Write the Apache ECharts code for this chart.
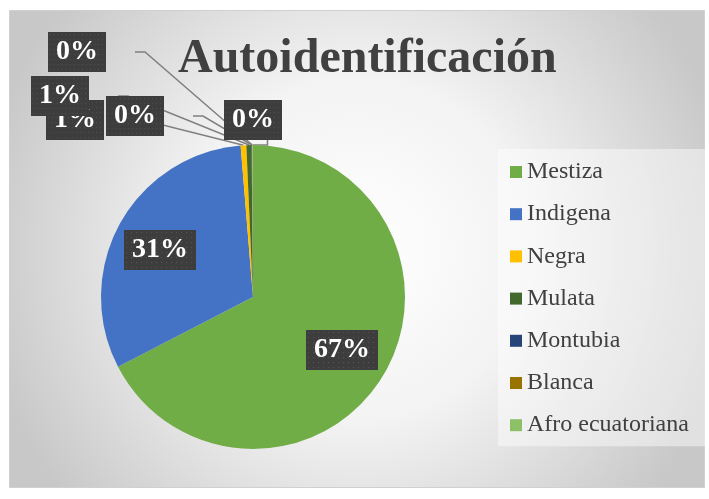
<!DOCTYPE html>
<html>
<head>
<meta charset="utf-8">
<script src="https://cdn.jsdelivr.net/npm/echarts@6/dist/echarts.min.js"></script>
<style>
  html, body { margin: 0; padding: 0; background: #ffffff; }
  #chart { width: 709px; height: 499px; }
</style>
</head>
<body>
<div id="chart"></div>
<script>
// Autoidentificación — share of each group
const categories = ['Mestiza', 'Indigena', 'Negra', 'Mulata', 'Montubia', 'Blanca', 'Afro ecuatoriana'];
const values = [67.4, 31.3, 0.6, 0.55, 0.05, 0.05, 0.05];
const colors = ['#70ad47', '#4472c4', '#ffc000', '#43682b', '#264478', '#997300', '#8cc168'];

// where each data label box sits (centre, px)
const labelSpots = [[342, 350], [160, 250], [75, 120], [60, 96], [135, 116], [77, 52], [253, 120]];

// dotted dark fill like the Excel label style
function dotPattern(w, h) {
  const c = document.createElement('canvas');
  c.width = w; c.height = h;
  const ctx = c.getContext('2d');
  ctx.fillStyle = '#3d3d3d';
  ctx.fillRect(0, 0, w, h);
  ctx.fillStyle = '#525252';
  for (let y = 2; y < h; y += 5) {
    for (let x = 2; x < w; x += 5) ctx.fillRect(x, y, 1.2, 1.2);
  }
  return c;
}
const labelBg = { image: dotPattern(72, 40) };

const chart = echarts.init(document.getElementById('chart'));

const option = {
  backgroundColor: '#ffffff',
  color: colors,
  animation: false,
  graphic: [{
    type: 'rect',
    z: -10,
    silent: true,
    shape: { x: 9.5, y: 10.5, width: 695, height: 477 },
    style: {
      fill: new echarts.graphic.RadialGradient(0.5, 0.5, 0.8, [
        { offset: 0, color: '#ffffff' },
        { offset: 0.45, color: '#f3f3f3' },
        { offset: 1, color: '#c8c8c8' }
      ]),
      stroke: '#d0d0d0',
      lineWidth: 1
    }
  }],
  title: {
    text: 'Autoidentificación',
    left: 173,
    top: 31,
    textStyle: {
      fontFamily: 'Liberation Serif',
      fontSize: 48,
      fontWeight: 'bold',
      color: '#404040'
    }
  },
  legend: {
    orient: 'vertical',
    left: 498,
    top: 149,
    padding: [11, 19, 9, 12],
    backgroundColor: 'rgba(255,255,255,0.45)',
    itemWidth: 12,
    itemHeight: 12,
    itemGap: 18.2,
    icon: 'rect',
    data: categories,
    textStyle: {
      fontFamily: 'Liberation Serif',
      fontSize: 24,
      lineHeight: 24,
      color: '#404040'
    }
  },
  series: [{
    type: 'pie',
    center: [253, 297],
    radius: 152,
    startAngle: 90,
    clockwise: true,
    avoidLabelOverlap: false,
    itemStyle: { borderWidth: 0 },
    data: categories.map((name, i) => ({ name, value: values[i] })),
    label: {
      show: true,
      position: 'outside',
      formatter: p => Math.round(p.percent) + '%',
      fontFamily: 'Liberation Serif',
      fontSize: 28,
      fontWeight: 'bold',
      color: '#ffffff',
      lineHeight: 30,
      padding: [5, 8, 5, 8],
      backgroundColor: labelBg,
      shadowColor: 'rgba(0,0,0,0.45)',
      shadowBlur: 6,
      shadowOffsetX: 3,
      shadowOffsetY: 3
    },
    labelLine: {
      show: true,
      length: 10,
      length2: 10,
      lineStyle: { color: '#808080', width: 1.5 }
    },
    emphasis: { disabled: true },
    labelLayout: p => {
      const s = labelSpots[p.dataIndex];
      return { x: s[0], y: s[1], align: 'center', verticalAlign: 'middle' };
    }
  }]
};

// the two big slices keep their labels inside, without leader lines
option.series[0].data[0].labelLine = { show: false };
option.series[0].data[1].labelLine = { show: false };

chart.setOption(option);
</script>
</body>
</html>
